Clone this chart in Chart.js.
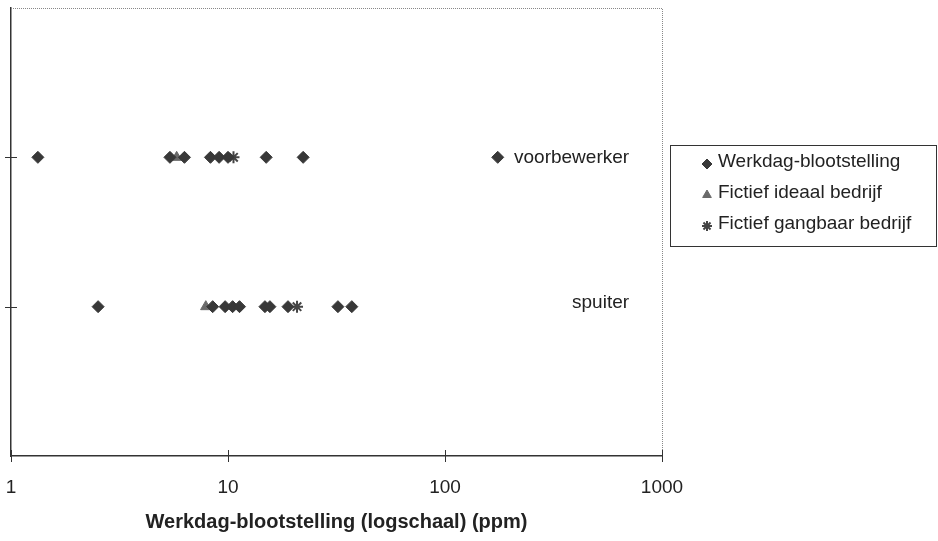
<!DOCTYPE html>
<html>
<head>
<meta charset="utf-8">
<script src="https://cdn.jsdelivr.net/npm/chart.js@4/dist/chart.umd.min.js"></script>
<style>
    html, body { margin: 0; padding: 0; background: #fff; }
</style>
</head>
<body>
<canvas id="chart" width="938" height="541"></canvas>
<script>
// rows on the y axis (y = 1, y = 2)
const rows = ["spuiter", "voorbewerker"];
const rowLabelX = [385, 208];   // ppm where each row name starts

// measured exposures (ppm)
const werkdagVoorbewerker = [1.33, 5.4, 6.3, 8.3, 9.1, 10.0, 15.0, 22.2, 175];
const werkdagSpuiter = [2.52, 8.5, 9.7, 10.5, 11.3, 14.8, 15.6, 18.9, 32.1, 37.2];
const ideaalVoorbewerker = [5.8];
const ideaalSpuiter = [7.9];
const gangbaarVoorbewerker = [10.6];
const gangbaarSpuiter = [20.8];

const xTicks = [1, 10, 100, 1000];
const seriesNames = ["Werkdag-blootstelling", "Fictief ideaal bedrijf", "Fictief gangbaar bedrijf"];

const FONT = "'Liberation Sans', Arial, Helvetica, sans-serif";

function points(voor, spuit) {
    return voor.map(v => ({ x: v, y: 2 })).concat(spuit.map(v => ({ x: v, y: 1 })));
}

const datasets = [
    {
        label: seriesNames[0],
        data: points(werkdagVoorbewerker, werkdagSpuiter),
        pointStyle: "rectRot",
        pointRadius: 6,
        backgroundColor: "#383838",
        borderColor: "#383838",
        borderWidth: 1
    },
    {
        label: seriesNames[1],
        data: points(ideaalVoorbewerker, ideaalSpuiter),
        pointStyle: "triangle",
        pointRadius: 6,
        backgroundColor: "#6a6a6a",
        borderColor: "#6a6a6a",
        borderWidth: 1
    },
    {
        label: seriesNames[2],
        data: points(gangbaarVoorbewerker, gangbaarSpuiter),
        pointStyle: "star",
        pointRadius: 6,
        backgroundColor: "#444",
        borderColor: "#444",
        borderWidth: 2
    }
];

const decorations = {
    id: "decorations",
    afterDraw(chart) {
        const { ctx, chartArea: a, scales: { x, y } } = chart;
        ctx.save();

        // dotted top and right frame
        ctx.strokeStyle = "#888";
        ctx.lineWidth = 1;
        ctx.setLineDash([1, 1]);
        ctx.beginPath();
        ctx.moveTo(a.left, a.top + 0.5);
        ctx.lineTo(a.right + 0.5, a.top + 0.5);
        ctx.lineTo(a.right + 0.5, a.bottom);
        ctx.stroke();
        ctx.setLineDash([]);

        // crossing tick marks
        ctx.strokeStyle = "#333";
        ctx.lineWidth = 1;
        ctx.beginPath();
        xTicks.forEach(v => {
            const px = Math.round(x.getPixelForValue(v)) + 0.5;
            ctx.moveTo(px, a.bottom - 6);
            ctx.lineTo(px, a.bottom + 6);
        });
        [1, 2].forEach(v => {
            const py = Math.round(y.getPixelForValue(v)) + 0.5;
            ctx.moveTo(a.left - 6, py);
            ctx.lineTo(a.left + 6, py);
        });
        ctx.stroke();

        // row names
        ctx.fillStyle = "#222";
        ctx.font = "19px " + FONT;
        ctx.textBaseline = "middle";
        ctx.textAlign = "left";
        rows.forEach((name, i) => {
            const dy = name === "spuiter" ? -4 : 0;
            ctx.fillText(name, x.getPixelForValue(rowLabelX[i]), y.getPixelForValue(i + 1) + dy);
        });

        // legend box
        const lx = 670, ly = 145, lw = 267, lh = 102;
        ctx.fillStyle = "#fff";
        ctx.fillRect(lx, ly, lw, lh);
        ctx.strokeStyle = "#333";
        ctx.lineWidth = 1;
        ctx.strokeRect(lx + 0.5, ly + 0.5, lw - 1, lh - 1);
        chart.data.datasets.forEach((ds, i) => {
            const yy = ly + 17 + i * 31;
            ctx.fillStyle = ds.backgroundColor;
            ctx.strokeStyle = ds.borderColor;
            ctx.lineWidth = ds.borderWidth;
            Chart.helpers.drawPoint(ctx, {
                pointStyle: ds.pointStyle, radius: 5, rotation: 0, borderWidth: ds.borderWidth
            }, lx + 37, yy + 2);
            ctx.fillStyle = "#222";
            ctx.font = "19px " + FONT;
            ctx.textBaseline = "middle";
            ctx.fillText(ds.label, lx + 48, yy);
        });

        ctx.restore();
    }
};

new Chart(document.getElementById("chart"), {
    type: "scatter",
    data: { datasets },
    options: {
        responsive: false,
        animation: false,
        layout: { padding: { left: 11, top: 6, right: 276, bottom: 0 } },
        plugins: {
            legend: { display: false },
            tooltip: { enabled: false }
        },
        scales: {
            x: {
                type: "logarithmic",
                min: 1,
                max: 1000,
                afterBuildTicks: scale => { scale.ticks = xTicks.map(v => ({ value: v })); },
                afterFit: scale => {
                    scale.height = 85;
                    scale.paddingLeft = 0;
                    scale.paddingRight = 0;
                },
                ticks: {
                    callback: v => String(v),
                    font: { family: FONT, size: 19 },
                    color: "#222",
                    padding: 12,
                    maxRotation: 0
                },
                grid: { display: false },
                border: { display: true, color: "#333", width: 1.5 },
                title: {
                    display: true,
                    text: "Werkdag-blootstelling (logschaal) (ppm)",
                    font: { family: FONT, size: 20, weight: "bold" },
                    color: "#222",
                    padding: { top: 0, bottom: 7 }
                }
            },
            y: {
                min: 0,
                max: 3,
                afterFit: scale => { scale.width = 0; },
                ticks: { display: false },
                grid: { display: false },
                border: { display: true, color: "#333", width: 1.5 }
            }
        }
    },
    plugins: [decorations]
});
</script>
</body>
</html>
